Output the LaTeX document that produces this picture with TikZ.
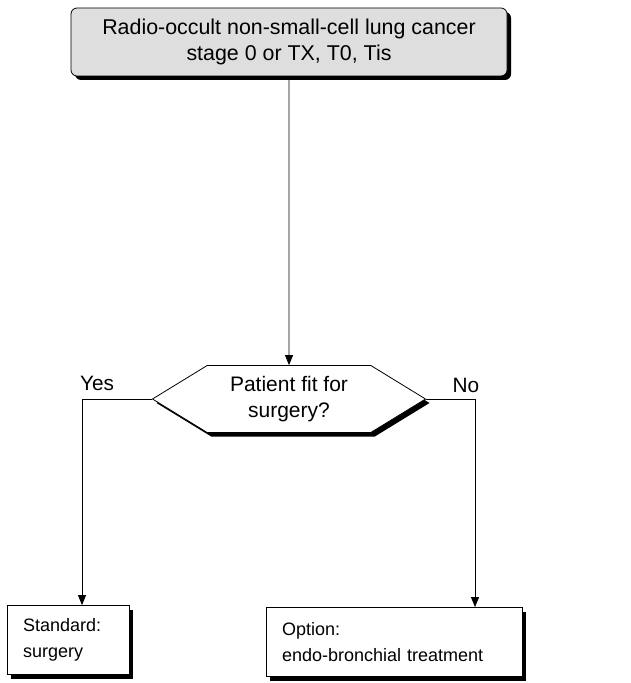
\documentclass[tikz,border=0pt]{standalone}
\usepackage{fontspec}
\setmainfont{Liberation Sans}
\usetikzlibrary{shapes.symbols,arrows.meta,positioning,shadows}

\begin{document}
\begin{tikzpicture}[
    x=0.5pt, y=-0.5pt,
    font=\fontsize{9}{13}\selectfont,
    shade/.style={drop shadow={shadow xshift=2pt, shadow yshift=-2pt, fill=black, opacity=1}},
    start/.style={draw, rounded corners=3pt, fill=black!13, shade, minimum width=218pt, minimum height=34pt, align=center, font=\fontsize{10.7}{13}\selectfont},
    decision/.style={draw, fill=white, shade, signal, signal to=west and east, signal pointer angle=63, minimum width=136.5pt, minimum height=33.5pt, align=center, inner sep=0pt, font=\fontsize{10.5}{13}\selectfont},
    result/.style={draw, fill=white, shade, minimum height=34.5pt, align=left, inner xsep=8pt},
    branch/.style={font=\fontsize{10.4}{13}\selectfont},
    arrow/.style={-{Triangle[length=5pt,width=4pt]}}
]
    \useasboundingbox (0,0) rectangle (630,683);

    \node[start] (stage) at (289,42) {Radio-occult non-small-cell lung cancer\\stage 0 or TX, T0, Tis};
    \node[decision] (fit) at (289,399) {Patient fit for\\surgery?};
    \node[result, text width=45pt] (std) at (68,640) {Standard:\\surgery};
    \node[result, text width=112pt] (opt) at (394,642) {Option:\\endo-bronchial treatment};

    \draw[arrow] (stage) -- (fit);
    \draw[arrow] (fit.west) -| ([xshift=7pt]std.north);
    \draw[arrow] (fit.east) -| ([xshift=40.5pt]opt.north);

    % branch labels
    \node[branch] (yes) at (97,383) {Yes};
    \node[branch] (no) at (466,385) {No};
\end{tikzpicture}
\end{document}
